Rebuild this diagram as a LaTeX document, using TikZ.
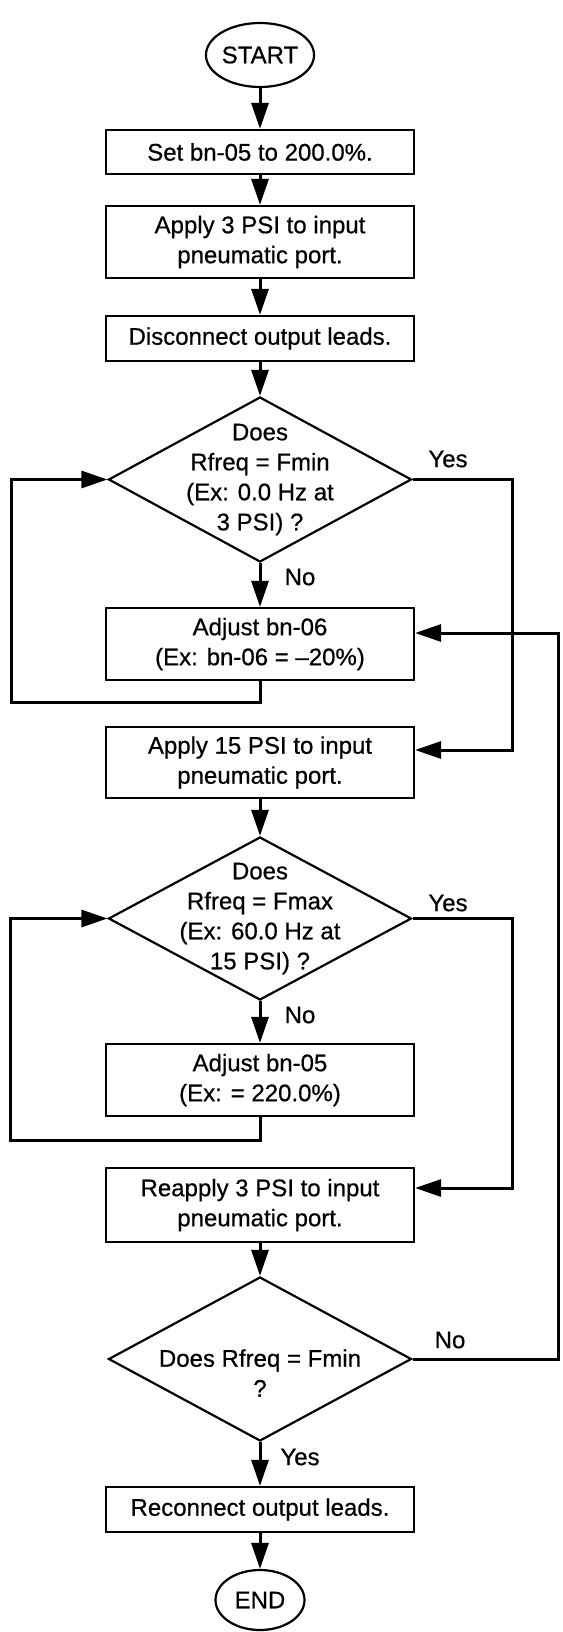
\documentclass[tikz,border=0pt]{standalone}
\usepackage{fontspec}
\setmainfont{Liberation Sans}
\newfontfamily\dfont{Liberation Sans}[FakeBold=0.6]
\usetikzlibrary{shapes.geometric,arrows.meta}
\begin{document}
\begin{tikzpicture}[x=1pt,y=1pt,
  every node/.style={font=\dfont\fontsize{24}{30}\selectfont},
  box/.style={draw, line width=2.2pt, minimum width=308pt, align=center, inner sep=0pt},
  dec/.style={draw, diamond, line width=2.2pt, minimum width=303pt, minimum height=165pt, inner sep=0pt},
  dtext/.style={align=center, inner sep=0pt},
  term/.style={draw, ellipse, line width=2.2pt, inner sep=0pt},
  conn/.style={line width=3pt, -{Triangle[length=26pt,width=17pt]}},
  lbl/.style={inner sep=0pt}
]
\useasboundingbox (0,0) rectangle (562,-1632);

\node[term, minimum width=98pt, minimum height=64pt] (start) at (260,-55) {START};
\node[box, minimum height=44pt] (b1) at (260,-152) {Set bn-05 to 200.0\%.};
\node[box, minimum height=72pt] (b2) at (260,-242) {Apply 3 PSI to input\\pneumatic port.};
\node[box, minimum height=45pt] (b3) at (260,-338.5) {Disconnect output leads.};
\node[dec] (d1) at (260,-479.5) {};
\node[dtext] (t1) at (d1.center) {Does\\Rfreq = Fmin\\(Ex: 0.0 Hz at\\3 PSI) ?};
\node[box, minimum height=72pt] (b4) at (260,-644) {Adjust bn-06\\(Ex: bn-06 = –20\%)};
\node[box, minimum height=71pt] (b5) at (260,-762.5) {Apply 15 PSI to input\\pneumatic port.};
\node[dec, minimum height=163pt] (d2) at (260,-918.5) {};
\node[dtext] (t2) at (d2.center) {Does\\Rfreq = Fmax\\(Ex: 60.0 Hz at\\15 PSI) ?};
\node[box, minimum height=72pt] (b6) at (260,-1080) {Adjust bn-05\\(Ex: = 220.0\%)};
\node[box, minimum height=74pt] (b7) at (260,-1205) {Reapply 3 PSI to input\\pneumatic port.};
\node[dec, minimum height=164pt] (d3) at (260,-1359) {};
\node[dtext] (t3) at ([yshift=-14pt]d3.center) {Does Rfreq = Fmin\\?};
\node[box, minimum height=45pt] (b8) at (260,-1509.5) {Reconnect output leads.};
\node[term, minimum width=89pt, minimum height=60pt] (end) at (260,-1600) {END};

\coordinate (L1) at (11,-702);
\coordinate (L2) at (10,-1140);
\coordinate (R1) at (512,-750);
\coordinate (R2) at (512,-1188);
\coordinate (R3) at (558,-633);

\draw[conn] (start) -- (b1);
\draw[conn] (b1) -- (b2);
\draw[conn] (b2) -- (b3);
\draw[conn] (b3) -- (d1);
\draw[conn] (d1) -- (b4);
\draw[conn] (b4.south) |- (L1) |- (d1.west);
\draw[conn] (d1.east) -| (R1) -- (R1 -| b5.east);
\draw[conn] (b5) -- (d2);
\draw[conn] (d2) -- (b6);
\draw[conn] (b6.south) |- (L2) |- (d2.west);
\draw[conn] (d2.east) -| (R2) -- (R2 -| b7.east);
\draw[conn] (b7) -- (d3);
\draw[conn] (d3) -- (b8);
\draw[conn] (b8) -- (end);
\draw[conn] (d3.east) -| (R3) -- (R3 -| b4.east);

\node[lbl] (y1) at (448,-459) {Yes};
\node[lbl] (n1) at (300,-577) {No};
\node[lbl] (y2) at (448,-903) {Yes};
\node[lbl] (n2) at (300,-1015) {No};
\node[lbl] (n3) at (450,-1340) {No};
\node[lbl] (y3) at (300,-1457) {Yes};
\end{tikzpicture}
\end{document}
